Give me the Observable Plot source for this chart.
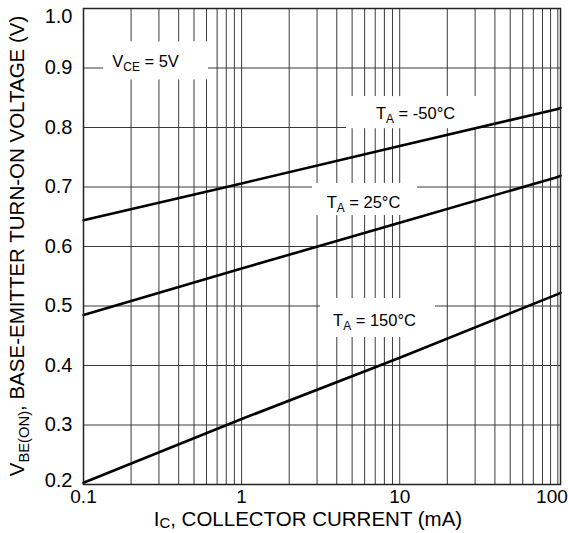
<!DOCTYPE html>
<html><head><meta charset="utf-8">
<script src="https://cdn.jsdelivr.net/npm/d3@7"></script>
<script src="https://cdn.jsdelivr.net/npm/@observablehq/plot@0.6"></script>
<style>body{margin:0;background:#fff} #chart svg{display:block}</style>
</head><body><div id="chart"></div>
<script>
// Collector current (mA) sample points
const currents = [0.1, 1, 10, 100, 104];
// Base-emitter turn-on voltage (V) per ambient temperature
const vbeTaMinus50 = [0.644, 0.706, 0.769, 0.831, 0.833];
const vbeTa25 = [0.485, 0.563, 0.640, 0.717, 0.719];
const vbeTa150 = [0.203, 0.310, 0.413, 0.520, 0.522];
const seriesNames = ["TA = -50°C", "TA = 25°C", "TA = 150°C"];

const xTickValues = [0.1, 1, 10, 100];
const yTickValues = [0.2, 0.3, 0.4, 0.5, 0.6, 0.7, 0.8, 0.9, 1.0];

// annotation labels (text parts) and their anchor / white-box extents in data units
const annotations = [
  {main: "V", sub: "CE", rest: " = 5V",     x: 0.247, y: 0.910, x1: 0.134, x2: 0.617, y1: 0.880, y2: 0.944},
  {main: "T", sub: "A",  rest: " = -50°C",  x: 12.6,  y: 0.8235, x1: 4.61, x2: 30.6, y1: 0.798, y2: 0.852},
  {main: "T", sub: "A",  rest: " = 25°C",   x: 5.90,  y: 0.674, x1: 2.81, x2: 12.96, y1: 0.652, y2: 0.706},
  {main: "T", sub: "A",  rest: " = 150°C",  x: 6.93,  y: 0.4756, x1: 3.155, x2: 16.84, y1: 0.447, y2: 0.5126}
];

const rows = [];
[vbeTaMinus50, vbeTa25, vbeTa150].forEach((vals, s) => {
  vals.forEach((v, i) => rows.push({series: seriesNames[s], ic: currents[i], vbe: v}));
});

// log-decade grid positions (1..9 per decade)
const gridX = [0.1, 1, 10].flatMap(d => d3.range(1, 10).map(k => +(k * d).toPrecision(3))).concat([100]);

const font = "'Liberation Sans', Arial, Helvetica, sans-serif";
const annText = d => d.main + d.sub + d.rest;

const chart = Plot.plot({
  width: 568, height: 533,
  marginTop: 8, marginRight: 8, marginBottom: 49, marginLeft: 83,
  style: {fontFamily: font, fontSize: "20px", background: "white", color: "black"},
  x: {type: "log", domain: [0.1, 104], label: null},
  y: {domain: [0.2, 1.0], label: null},
  marks: [
    Plot.ruleX(gridX, {stroke: "#3a3a3a", strokeWidth: 1}),
    Plot.ruleY(yTickValues, {stroke: "#3a3a3a", strokeWidth: 1}),
    Plot.rect(annotations, {x1: "x1", x2: "x2", y1: "y1", y2: "y2", fill: "white"}),
    Plot.line(rows, {x: "ic", y: "vbe", z: "series", stroke: "black", strokeWidth: 2.6}),
    Plot.text(annotations, {x: "x", y: "y", text: annText, fontSize: 16.5, fill: "black"}),
    Plot.frame({stroke: "#222", strokeWidth: 1.5}),
    Plot.axisY({ticks: yTickValues.slice(1, 8), tickFormat: d3.format(".1f"), tickSize: 0, tickPadding: 11, label: null}),
    Plot.axisY({ticks: [yTickValues[8]], tickFormat: d3.format(".1f"), tickSize: 0, tickPadding: 11, dy: 8, label: null}),
    Plot.axisY({ticks: [yTickValues[0]], tickFormat: d3.format(".1f"), tickSize: 0, tickPadding: 11, dy: -4, label: null}),
    Plot.axisX({ticks: xTickValues.slice(0, 3), tickFormat: d => String(d), tickSize: 0, tickPadding: 5, fontSize: 19, label: null}),
    Plot.axisX({ticks: xTickValues.slice(3), tickFormat: d => String(d), tickSize: 0, tickPadding: 5, fontSize: 19, textAnchor: "end", dx: 10, label: null})
  ]
});

document.getElementById("chart").appendChild(chart);
const svg = d3.select(chart);

function rich(t, main, sub, rest, size, shiftEm = 0.25) {
  const subSize = size * 0.72, shift = size * shiftEm;
  t.text(null);
  t.append("tspan").text(main);
  t.append("tspan").attr("font-size", subSize + "px").attr("dy", shift).text(sub);
  t.append("tspan").attr("dy", -shift).text(rest);
}

const wanted = annotations.map(annText);
svg.selectAll("text").each(function() {
  const i = wanted.indexOf(this.textContent);
  if (i >= 0 && !this.querySelector("tspan")) {
    const a = annotations[i];
    rich(d3.select(this), a.main, a.sub, a.rest, 16.5);
  }
});

const xt = svg.append("text")
  .attr("x", 308).attr("y", 526)
  .attr("text-anchor", "middle")
  .attr("font-family", font).attr("font-size", "20.5px").attr("fill", "black");
rich(xt, "I", "C", ", COLLECTOR CURRENT (mA)", 20.5, 0.12);

const yt = svg.append("text")
  .attr("transform", "translate(24,246) rotate(-90)")
  .attr("text-anchor", "middle")
  .attr("font-family", font).attr("font-size", "20.5px").attr("fill", "black");
rich(yt, "V", "BE(ON)", ", BASE-EMITTER TURN-ON VOLTAGE (V)", 20.5);
</script>
</body></html>
